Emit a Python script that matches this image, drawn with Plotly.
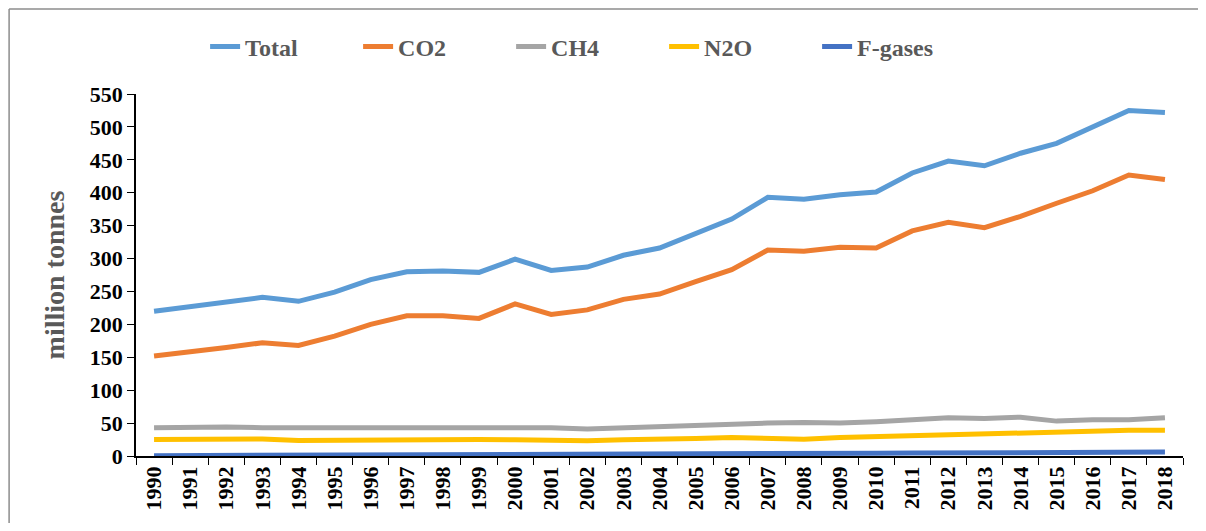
import plotly.graph_objects as go

# Greenhouse gas emissions by gas, million tonnes
years = [str(y) for y in range(1990, 2019)]

total = [220, 227, 234, 241, 235, 249, 268, 280, 281, 279, 299, 282, 287, 305, 316,
         339, 360, 393, 390, 397, 401, 430, 448, 441, 460, 475, 500, 525, 522]
co2 = [152, 158, 165, 172, 168, 182, 200, 213, 213, 209, 231, 215, 222, 238, 246,
       265, 283, 313, 311, 317, 316, 342, 355, 347, 364, 384, 403, 427, 420]
ch4 = [43, 44, 44, 43, 43, 43, 43, 43, 43, 44, 44, 43, 41, 43, 44,
       46, 48, 50, 51, 50, 52, 55, 58, 57, 59, 53, 55, 55, 58]
n2o = [25, 25, 25.5, 26, 23.5, 24, 24.5, 24, 25, 25, 24.5, 23.5, 23, 24.5, 25,
       26.5, 28, 27, 25.5, 28, 29.5, 31, 32, 34, 35, 36, 38, 39, 39]
fgases = [0.5, 0.6, 0.7, 0.8, 0.9, 1.0, 1.1, 1.3, 1.5, 1.7, 1.9, 2.1, 2.3, 2.5, 2.7,
          3.0, 3.3, 3.6, 3.8, 4.0, 4.2, 4.5, 4.8, 5.0, 5.2, 5.4, 5.6, 5.8, 6.0]

series = [
    ('Total', total, '#5B9BD5'),
    ('CO2', co2, '#ED7D31'),
    ('CH4', ch4, '#A5A5A5'),
    ('N2O', n2o, '#FFC000'),
    ('F-gases', fgases, '#4472C4'),
]

font = 'Liberation Serif, Times New Roman, serif'

fig = go.Figure()
for name, vals, color in series:
    fig.add_trace(go.Scatter(x=years, y=vals, mode='lines', name=name,
                             line=dict(color=color, width=5)))

# page body has an 8px margin, so the figure is a bit smaller than the window
fig.update_layout(
    width=1190, height=515,
    margin=dict(l=128, r=15, t=86, b=67),
    paper_bgcolor='white', plot_bgcolor='white',
    font=dict(family=font, size=20, color='black'),
    legend=dict(orientation='h', x=0.066, xanchor='left', y=1.13, yanchor='middle',
                font=dict(family=font, size=24, color='#595959', weight='bold'),
                entrywidth=108, entrywidthmode='pixels'),
    showlegend=True,
)

fig.update_xaxes(type='category', range=[-0.5, 28.5], automargin=False,
                 showline=True, linecolor='black', linewidth=1.5,
                 ticks='outside', tickson='boundaries', ticklen=7, tickcolor='black',
                 tickangle=-90, showgrid=False,
                 tickfont=dict(family=font, size=22, color='black', weight='bold'))
fig.update_yaxes(range=[0, 550], dtick=50, automargin=False,
                 showline=True, linecolor='black', linewidth=1.5,
                 ticks='outside', ticklen=7, tickcolor='black', showgrid=False, zeroline=False,
                 tickfont=dict(family=font, size=22, color='black', weight='bold'),
                 title=dict(text='million tonnes', standoff=17,
                            font=dict(family=font, size=28, color='#595959', weight='bold')))

# outer chart border (top and left edges)
fig.add_shape(type='line', xref='paper', yref='paper', x0=-0.1212, x1=1.1, y0=1.2345, y1=1.2345,
              line=dict(color='#8c8c8c', width=1.5))
fig.add_shape(type='line', xref='paper', yref='paper', x0=-0.1212, x1=-0.1212, y0=-0.3, y1=1.2345,
              line=dict(color='#8c8c8c', width=1.5))

fig.write_html('out.html')
